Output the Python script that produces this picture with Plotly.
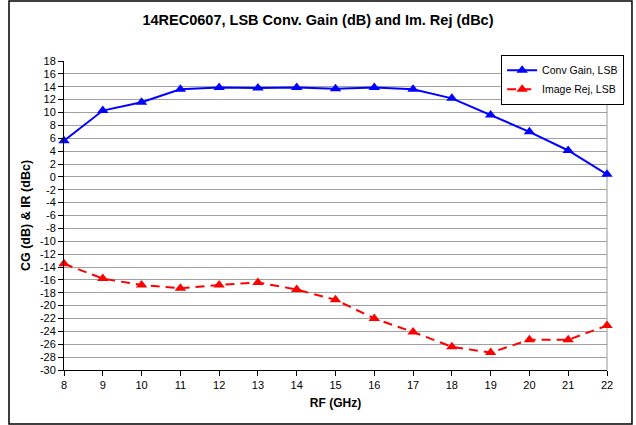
import plotly.graph_objects as go

rf_ghz = [8, 9, 10, 11, 12, 13, 14, 15, 16, 17, 18, 19, 20, 21, 22]
conv_gain_lsb = [5.6, 10.3, 11.6, 13.6, 13.9, 13.8, 13.9, 13.7, 13.9, 13.6, 12.2, 9.6, 7.0, 4.1, 0.4]
image_rej_lsb = [-13.5, -15.8, -16.8, -17.3, -16.8, -16.4, -17.5, -19.1, -22.0, -24.1, -26.4, -27.3, -25.3, -25.3, -23.1]

series_names = ["Conv Gain, LSB", "Image Rej, LSB"]
y_ticks = list(range(-30, 19, 2))
x_ticks = list(range(8, 23, 1))

font_family = "Liberation Sans, Arial, sans-serif"

fig = go.Figure()
fig.add_trace(go.Scatter(
    x=rf_ghz, y=conv_gain_lsb, name=series_names[0], mode="lines+markers",
    line=dict(color="#0000FF", width=2),
    marker=dict(symbol="triangle-up", size=10, color="#0000FF"),
    cliponaxis=False,
))
fig.add_trace(go.Scatter(
    x=rf_ghz, y=image_rej_lsb, name=series_names[1], mode="lines+markers",
    line=dict(color="#FF0000", width=2, dash="9px,6px"),
    marker=dict(symbol="triangle-up", size=10, color="#FF0000"),
    cliponaxis=False,
))

fig.update_layout(
    width=636, height=425,
    margin=dict(l=64, r=29, t=61, b=55),
    paper_bgcolor="white", plot_bgcolor="white",
    font=dict(family=font_family, size=11, color="black"),
    title=dict(
        text="<b>14REC0607, LSB Conv. Gain (dB) and Im. Rej (dBc)</b>",
        x=0.5, xanchor="center", y=0.953, yanchor="middle",
        font=dict(size=14.5, family=font_family, color="black"),
    ),
    showlegend=True,
    legend=dict(
        x=0.805, y=1.02, xref="paper", yref="paper",
        xanchor="left", yanchor="top",
        bgcolor="white", bordercolor="black", borderwidth=1,
        font=dict(size=10.5, family=font_family),
        tracegroupgap=0, itemwidth=30,
    ),
    shapes=[
        dict(type="rect", xref="paper", yref="paper", x0=-0.1013, x1=1.046, y0=-0.175, y1=1.194,
             line=dict(color="black", width=1.5), fillcolor="rgba(0,0,0,0)", layer="below"),
        dict(type="line", xref="x domain", yref="y domain", x0=1, x1=1, y0=0, y1=1,
             line=dict(color="#999999", width=1), layer="below"),
    ],
)

fig.update_xaxes(
    range=[8, 22], tickvals=x_ticks, ticktext=[str(v) for v in x_ticks],
    showgrid=False, zeroline=False,
    showline=True, linecolor="black", linewidth=1,
    ticks="outside", ticklen=5, tickcolor="black",
    tickfont=dict(size=11),
    title=dict(text="<b>RF (GHz)</b>", font=dict(size=12), standoff=8),
)
fig.update_yaxes(
    range=[-30, 18], tickvals=y_ticks, ticktext=[str(v) for v in y_ticks],
    showgrid=True, gridcolor="#A0A0A0", gridwidth=1, zeroline=False,
    showline=True, linecolor="black", linewidth=1,
    ticks="outside", ticklen=5, tickcolor="black",
    tickfont=dict(size=11),
    title=dict(text="<b>CG (dB) & IR (dBc)</b>", font=dict(size=12.5), standoff=6),
)

fig.write_html("out.html", config={"displayModeBar": False},
               post_script="document.body.style.margin='0px';")
